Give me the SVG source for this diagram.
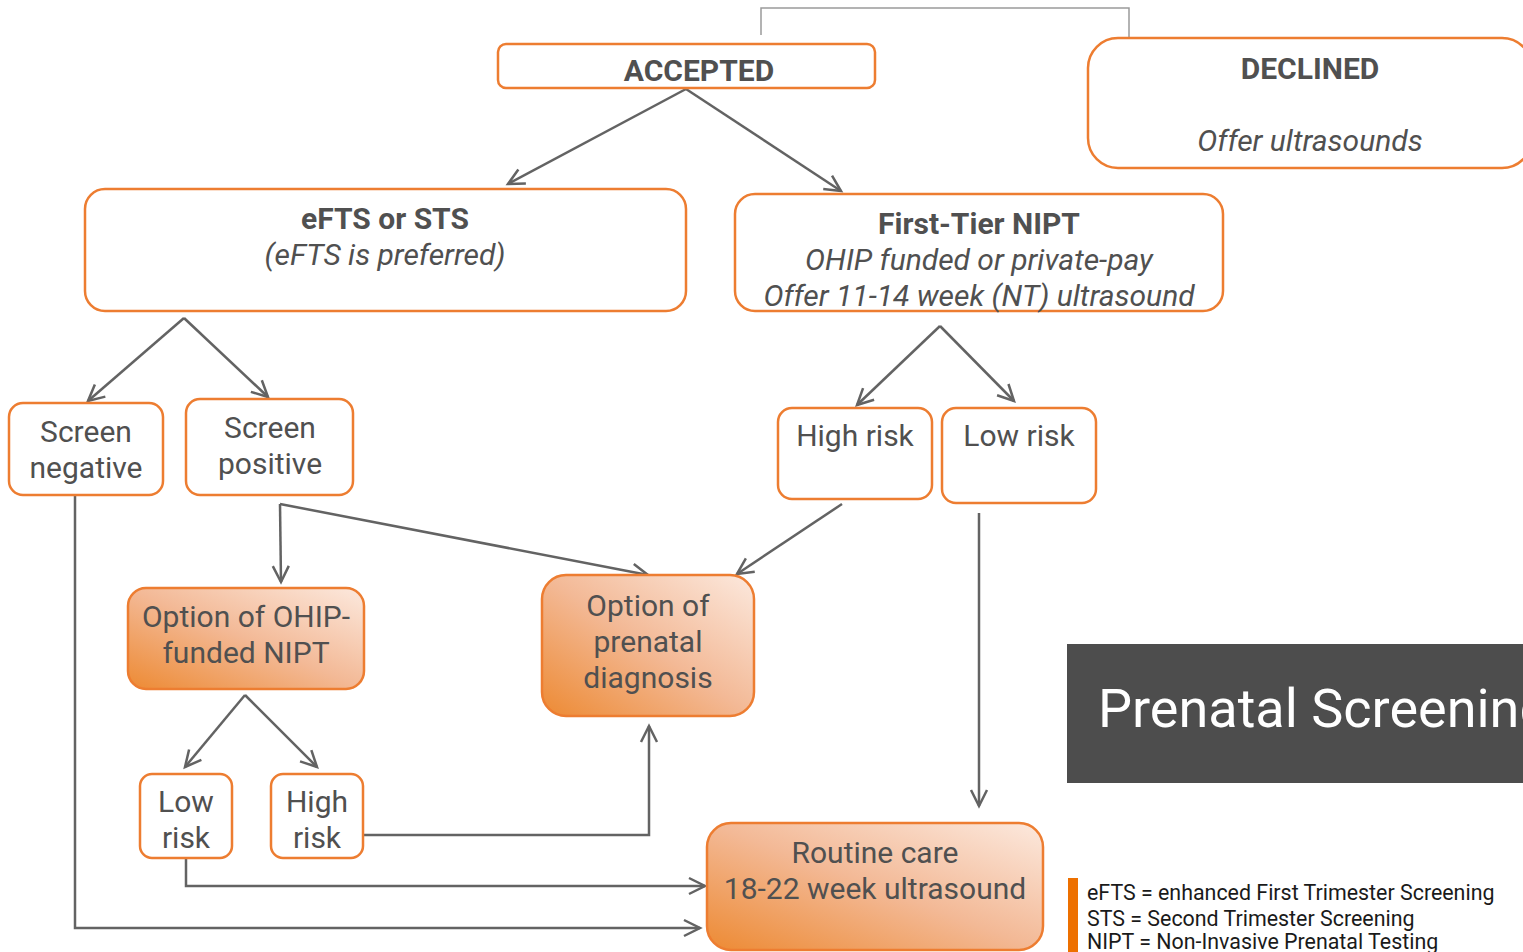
<svg xmlns="http://www.w3.org/2000/svg" width="1523" height="952" viewBox="0 0 1523 952">
<style>
.box{fill:#fff;stroke:#ED7D31;stroke-width:2.5}
.grad{fill:url(#og);stroke:#ED7D31;stroke-width:2.5}
.t{font-family:Roboto,"Liberation Sans",sans-serif;font-size:30px;fill:#505050;text-anchor:middle}
.b{font-weight:bold}
.i{font-style:italic}
.ca{fill:none;stroke:#636363;stroke-width:2.5;marker-end:url(#ah)}
.lg{font-family:Roboto,"Liberation Sans",sans-serif;font-size:21.4px;fill:#1a1a1a}
</style>
<defs>
<linearGradient id="og" x1="0" y1="1" x2="1" y2="0">
<stop offset="0" stop-color="#ED8A33"/>
<stop offset="0.5" stop-color="#F3B996"/>
<stop offset="1" stop-color="#FCE9DE"/>
</linearGradient>
<marker id="ah" markerUnits="userSpaceOnUse" markerWidth="22" markerHeight="22" viewBox="0 0 22 22" refX="19" refY="11" orient="auto">
<path d="M3,3 L19,11 L3,19" fill="none" stroke="#636363" stroke-width="2.5"/>
</marker>
</defs>
<rect width="1523" height="952" fill="#fff"/>

<g id="connectors">
<path d="M761,35 V8 H1129 V38" fill="none" stroke="#9a9a9a" stroke-width="1.5"/>
<path class="ca" d="M686,89 L508,184"/>
<path class="ca" d="M686,89 L841,191"/>
<path class="ca" d="M184,318 L88,401"/>
<path class="ca" d="M184,318 L268,397"/>
<path class="ca" d="M940,326 L857,405"/>
<path class="ca" d="M940,326 L1014,401"/>
<path class="ca" d="M280,504 L281,582"/>
<path class="ca" d="M280,504 L648,575"/>
<path class="ca" d="M842,504 L737,574"/>
<path class="ca" d="M979,513 V806"/>
<path class="ca" d="M245,695 L185,767"/>
<path class="ca" d="M245,695 L317,767"/>
<path class="ca" d="M363,835 H649 V726"/>
<path class="ca" d="M186,858 V886 H705"/>
<path class="ca" d="M75,495 V928 H700"/>
</g>

<g id="accepted">
<rect class="box" x="498" y="44" width="377" height="44" rx="8"/>
<text class="t b" x="699" y="81" font-size="31">ACCEPTED</text>
</g>
<g id="declined">
<rect class="box" x="1088" y="38" width="444" height="130" rx="30"/>
<text class="t b" x="1310" y="79">DECLINED</text>
<text class="t i" x="1310" y="151">Offer ultrasounds</text>
</g>
<g id="efts">
<rect class="box" x="85" y="189" width="601" height="122" rx="20"/>
<text class="t b" x="385" y="229">eFTS or STS</text>
<text class="t i" x="385" y="265">(eFTS is preferred)</text>
</g>
<g id="nipt">
<rect class="box" x="735" y="194" width="488" height="117" rx="20"/>
<text class="t b" x="979" y="234">First-Tier NIPT</text>
<text class="t i" x="979" y="270">OHIP funded or private-pay</text>
<text class="t i" x="979" y="306">Offer 11-14 week (NT) ultrasound</text>
</g>
<g id="screen-negative">
<rect class="box" x="9" y="403" width="154" height="92" rx="14"/>
<text class="t" x="86" y="442">Screen</text>
<text class="t" x="86" y="478">negative</text>
</g>
<g id="screen-positive">
<rect class="box" x="186" y="399" width="167" height="96" rx="14"/>
<text class="t" x="270" y="438">Screen</text>
<text class="t" x="270" y="474">positive</text>
</g>
<g id="high-risk">
<rect class="box" x="778" y="408" width="154" height="91" rx="14"/>
<text class="t" x="855" y="446">High risk</text>
</g>
<g id="low-risk">
<rect class="box" x="942" y="408" width="154" height="95" rx="14"/>
<text class="t" x="1019" y="446">Low risk</text>
</g>
<g id="ohip-nipt">
<rect class="grad" x="128" y="588" width="236" height="101" rx="18"/>
<text class="t" x="246" y="627">Option of OHIP-</text>
<text class="t" x="246" y="663">funded NIPT</text>
</g>
<g id="prenatal-diagnosis">
<rect class="grad" x="542" y="575" width="212" height="141" rx="24"/>
<text class="t" x="648" y="616">Option of</text>
<text class="t" x="648" y="652">prenatal</text>
<text class="t" x="648" y="688">diagnosis</text>
</g>
<g id="low-risk-2">
<rect class="box" x="140" y="774" width="92" height="84" rx="12"/>
<text class="t" x="186" y="812">Low</text>
<text class="t" x="186" y="848">risk</text>
</g>
<g id="high-risk-2">
<rect class="box" x="271" y="774" width="92" height="84" rx="12"/>
<text class="t" x="317" y="812">High</text>
<text class="t" x="317" y="848">risk</text>
</g>
<g id="routine-care">
<rect class="grad" x="707" y="823" width="336" height="127" rx="24"/>
<text class="t" x="875" y="863">Routine care</text>
<text class="t" x="875" y="899">18-22 week ultrasound</text>
</g>
<g id="title">
<rect x="1067" y="644" width="470" height="139" fill="#4D4D4D"/>
<text x="1098" y="727" font-family="Roboto,'Liberation Sans',sans-serif" font-size="54" fill="#fff">Prenatal Screening</text>
</g>
<g id="legend">
<rect x="1068" y="878" width="10" height="80" fill="#ED7000"/>
<text class="lg" x="1087" y="900">eFTS = enhanced First Trimester Screening</text>
<text class="lg" x="1087" y="926">STS = Second Trimester Screening</text>
<text class="lg" x="1087" y="949">NIPT = Non-Invasive Prenatal Testing</text>
</g>
</svg>
